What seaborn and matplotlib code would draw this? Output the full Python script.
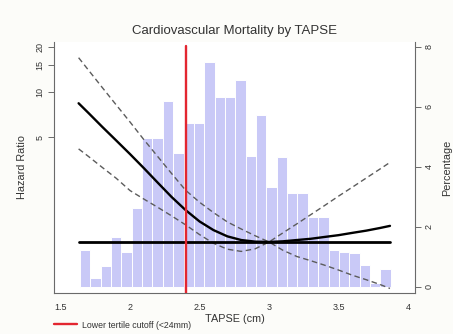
import numpy as np
import pandas as pd
import matplotlib
matplotlib.use("Agg")
import matplotlib.pyplot as plt
import seaborn as sns
from matplotlib.ticker import FixedLocator, FixedFormatter, NullLocator

# Distribution of TAPSE: percentage of patients in each bin
bin_start = 1.64
bin_width = 0.0745
pct = [1.22, 0.28, 0.69, 1.65, 1.17, 2.61, 4.95, 4.95, 6.20, 4.45,
       5.45, 5.45, 7.50, 6.33, 6.33, 6.90, 4.36, 5.72, 3.33, 4.31,
       3.11, 3.11, 2.33, 2.33, 1.22, 1.17, 1.11, 0.72, 0.11, 0.58]

# Spline-estimated hazard ratio with 95% confidence limits
tapse = [1.63, 1.7, 1.8, 1.9, 2.0, 2.1, 2.2, 2.3, 2.4, 2.5, 2.6, 2.7,
         2.8, 2.9, 3.0, 3.1, 3.2, 3.3, 3.4, 3.5, 3.6, 3.7, 3.8, 3.87]
hr = [8.4, 7.25, 5.85, 4.75, 3.85, 3.1, 2.48, 1.99, 1.63, 1.37, 1.2, 1.09,
      1.03, 1.005, 1.0, 1.01, 1.03, 1.05, 1.08, 1.11, 1.15, 1.19, 1.24, 1.28]
hr_hi = [16.9, 14.0, 10.7, 8.2, 6.3, 4.8, 3.7, 2.85, 2.21, 1.84, 1.57, 1.36,
         1.22, 1.1, 1.0, 1.15, 1.32, 1.52, 1.75, 2.02, 2.32, 2.67, 3.07, 3.39]
hr_lo = [4.17, 3.72, 3.14, 2.66, 2.2, 1.93, 1.7, 1.49, 1.3, 1.12, 0.98, 0.895,
         0.865, 0.9, 1.0, 0.88, 0.8, 0.75, 0.70, 0.65, 0.60, 0.56, 0.52, 0.49]

cutoff = 2.4
cutoff_label = "Lower tertile cutoff (<24mm)"

x_ticks = [1.5, 2, 2.5, 3, 3.5, 4]
x_tick_labels = ["1.5", "2", "2.5", "3", "3.5", "4"]
hr_ticks = [5, 10, 15, 20]
pct_ticks = [0, 2, 4, 6, 8]

sns.set_theme(style="white")
plt.rcParams["font.family"] = ["Liberation Sans", "DejaVu Sans"]

text_col = "#333333"
axis_col = "#6a6a6a"

fig = plt.figure(figsize=(4.53, 3.34), dpi=100, facecolor="#fcfcf9")
ax_pct = fig.add_axes([54 / 453, 1 - 293 / 334, 361 / 453, 251 / 334])
ax_pct.set_facecolor("white")
ax_hr = ax_pct.twinx()

# Histogram (right axis)
edges = [float(e) for e in bin_start + bin_width * np.arange(len(pct) + 1)]
centers = [(a + b) / 2 for a, b in zip(edges[:-1], edges[1:])]
hist_df = pd.DataFrame({"tapse": centers, "pct": pct})
sns.histplot(data=hist_df, x="tapse", weights="pct", bins=edges, ax=ax_pct,
             color="#c9c9f7", alpha=1.0, edgecolor="white", linewidth=0.7)
ax_pct.set_ylim(-0.21, 8.16)
ax_pct.set_xlim(1.453, 4.05)

# Hazard ratio curves (left axis, log scale)
ax_hr.set_yscale("log")
ax_hr.set_ylim(0.457, 21.5)
sns.lineplot(x=tapse, y=hr_hi, ax=ax_hr, color="#5c5c5c", lw=1.0,
             linestyle=(0, (4, 2.5)), sort=False)
sns.lineplot(x=tapse, y=hr_lo, ax=ax_hr, color="#5c5c5c", lw=1.0,
             linestyle=(0, (4, 2.5)), sort=False)
sns.lineplot(x=[tapse[0], tapse[-1]], y=[1, 1], ax=ax_hr, color="black",
             lw=2.0, sort=False)
sns.lineplot(x=tapse, y=hr, ax=ax_hr, color="black", lw=1.7, sort=False)
ax_hr.axvline(cutoff, ymin=0, ymax=0.984, color="#e32630", lw=1.7,
              label=cutoff_label)

# Axes placement: hazard ratio on the left, percentage on the right
ax_hr.yaxis.tick_left()
ax_hr.yaxis.set_label_position("left")
ax_pct.yaxis.tick_right()
ax_pct.yaxis.set_label_position("right")

ax_hr.yaxis.set_major_locator(FixedLocator(hr_ticks))
ax_hr.yaxis.set_major_formatter(FixedFormatter([str(t) for t in hr_ticks]))
ax_hr.yaxis.set_minor_locator(NullLocator())
ax_pct.set_yticks(pct_ticks)
ax_pct.set_yticklabels([str(t) for t in pct_ticks])
ax_pct.set_xticks(x_ticks)
ax_pct.set_xticklabels(x_tick_labels)

for a in (ax_pct, ax_hr):
    a.tick_params(axis="both", which="major", length=4, width=0.7,
                  color=axis_col, labelsize=6.5, labelcolor=text_col, pad=3)
    a.grid(False)
for lab in ax_hr.get_yticklabels() + ax_pct.get_yticklabels():
    lab.set_rotation(90)
    lab.set_va("center")

for s in ax_hr.spines.values():
    s.set_visible(False)
ax_pct.spines["top"].set_visible(False)
for s in ("left", "right", "bottom"):
    ax_pct.spines[s].set_color(axis_col)
    ax_pct.spines[s].set_linewidth(0.8)

ax_pct.set_xlabel("TAPSE (cm)", fontsize=7.8, color=text_col, labelpad=2)
ax_pct.set_ylabel("Percentage", fontsize=7.8, color=text_col, labelpad=6)
ax_hr.set_ylabel("Hazard Ratio", fontsize=7.8, color=text_col, labelpad=6)
ax_pct.set_title("Cardiovascular Mortality by TAPSE", fontsize=9.5,
                 color=text_col, pad=6)

handles, labels = ax_hr.get_legend_handles_labels()
fig.legend(handles, labels, loc="center left",
           bbox_to_anchor=(50 / 453, 1 - 325 / 334), frameon=False,
           fontsize=6.3, handlelength=2.6, handletextpad=0.5, borderpad=0,
           labelcolor=text_col)

fig.savefig("out.png", dpi=100, facecolor=fig.get_facecolor())
